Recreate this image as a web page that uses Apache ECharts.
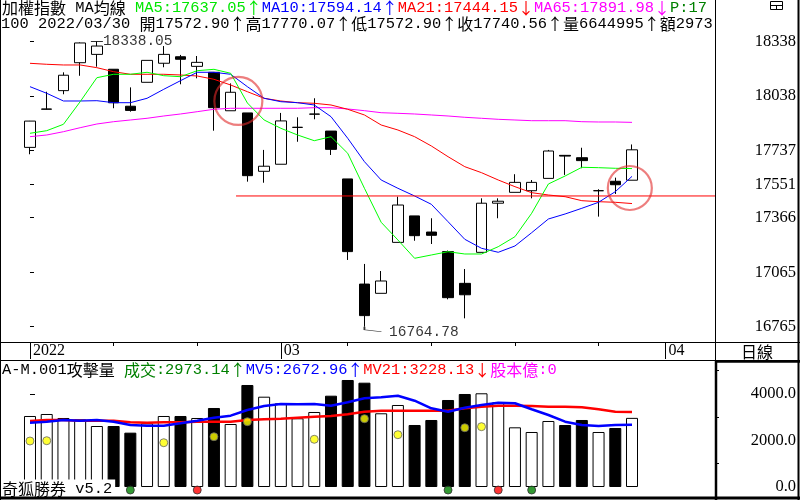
<!DOCTYPE html>
<html><head><meta charset="utf-8">
<script src="https://cdn.jsdelivr.net/npm/echarts@6/dist/echarts.min.js"></script>
<style>html,body{margin:0;padding:0;background:#fff}#c{width:800px;height:500px}</style>
</head><body><div id="c"></div>
<script>
const dates = ['2022/02/07','2022/02/08','2022/02/09','2022/02/10','2022/02/11','2022/02/14','2022/02/15','2022/02/16','2022/02/17','2022/02/18','2022/02/21','2022/02/22','2022/02/23','2022/02/24','2022/02/25','2022/03/01','2022/03/02','2022/03/03','2022/03/04','2022/03/07','2022/03/08','2022/03/09','2022/03/10','2022/03/11','2022/03/14','2022/03/15','2022/03/16','2022/03/17','2022/03/18','2022/03/21','2022/03/22','2022/03/23','2022/03/24','2022/03/25','2022/03/28','2022/03/29','2022/03/30'];
const opens  = [17754,17964,18067,18221,18267,18185,17981,18113,18218,18254,18201,18168,17956,17944,17622,17661,17864,17937,17844,17580,17000,16949,17230,17376,17287,17179,17004,17175,17446,17506,17515,17583,17710,17697,17515,17567,17572.90];
const highs  = [17900,18061,18168,18333,18338.05,18185,18085,18234,18313,18264,18258,18168,18107,17944,17740,17944,17920,18025,17844,17580,17111,17072,17482,17376,17363,17185,17083,17473,17473,17606,17574,17740,17712,17752,17523,17587,17770.07];
const lows   = [17716,17962,18047,18149,18199,17970,17951,18113,18196,18102,18135,17846,17956,17565,17559,17661,17785,17909,17712,17133,16764.78,16949,17230,17239,17221,16916,16811,17175,17363,17506,17473,17583,17602,17639,17372,17497,17572.90];
const closes = [17899,17966,18152,18330,18313,18000,17958,18234,18267,18240,18223,17973,18058,17598,17650,17900,17865,17938,17743,17179,16826,17017,17436,17267,17269,16925,16941,17446,17457,17561,17561,17734,17706,17681,17515,17548,17740.56];
const ma5  = [17831.7,17846.1,17881.4,18006,18138.4,18157.2,18157.2,18168.2,18149.4,18143.9,18177,18184.7,18162.7,17998.9,17905.1,17859.3,17822.3,17790.9,17813,17721.4,17528.3,17340.8,17243.2,17142.2,17160.4,17178.6,17165.9,17165.9,17206.2,17261.3,17390.4,17552.1,17596.2,17644.2,17642,17638.7,17637.05];
const ma10 = [18088.8,18052.4,18009.9,18009.9,18011.5,18000.5,18000.5,18024.8,18074.4,18121.9,18168.2,18168.2,18157.2,18088.8,18024.8,18006,18000.5,17987.8,17923.3,17804.1,17675.1,17574.1,17528.3,17485.9,17440.1,17344.1,17247,17197.4,17175.3,17210,17283.4,17359,17386.6,17418,17451.1,17509.6,17594.14];
const ma21 = [18217.8,18212.3,18208.5,18208.5,18193.6,18171.5,18157.2,18157.2,18157.2,18153.3,18147.8,18129.6,18098.1,18061.2,18024.8,18009.9,18000.5,17997.2,17987.8,17964.1,17932.7,17877.5,17849.9,17813,17761.7,17702.6,17647.5,17614.4,17574.1,17537.2,17504.1,17491.4,17482,17460,17454.4,17451.1,17444.15];
const ma65 = [17813,17822.3,17840.5,17862.6,17883,17895.7,17905.1,17914.5,17927.1,17938.2,17950.9,17964.1,17969.6,17969.6,17969.6,17969.6,17969.6,17972.9,17972.9,17965.8,17956.4,17945.3,17942,17938.2,17932.7,17927.1,17920,17914.5,17908.9,17905.1,17901.2,17901.2,17901.2,17895.7,17894,17894,17891.98];
const volumes = [3054,3140,2968,2911,2623,2623,2337,2738,3054,3054,2968,3398,2710,4387,3884,3600,2955,3226,3927,4602,4486,3170,3527,2667,2882,3742,4000,4030,3643,2567,2366,2839,2667,2882,2366,2538,2973.14];
const mv5  = [2766,2809,2882,2852,2882,2809,2667,2637,2637,2740,2852,2981,3067,3312,3484,3570,3557,3570,3497,3643,3815,3858,3927,3712,3385,3239,3411,3527,3626,3600,3342,3097,2809,2667,2624,2667,2672.96];
const mv21 = [2839,2882,2882,2852,2852,2852,2783,2766,2783,2783,2809,2809,2809,2882,2912,2938,2981,3024,3054,3127,3239,3282,3282,3282,3282,3282,3385,3454,3497,3497,3484,3454,3454,3428,3342,3239,3228.13];
const attackIdx = [0,1,8,11,13,17,20,22,26,27];
const attackVal = [1978,1991,1905,2163,2809,2052,2938,2249,2550,2594];
const greenSignalIdx = [6,25,30];
const redSignalIdx = [10,28];
const signalLevel = -130;
const priceTicks = [18338,18038,17737,17551,17366,17065,16765];
const volTicks = [0,2000,4000];
const volMinorTicks = [1000,3000,5000];
const monthTickIdx = [0,15,38];
const monthLabels = ['2022','03','04'];
const weekTickIdx = [5,10,19,24,29,34];
const refLevel = 17486, refStartIdx = 12.32;
const circleX = [12.46, 35.87], circleY = [18010, 17530];
const tradeVolume = 6644995;

const FONT = "'Liberation Serif','Noto Sans CJK TC',serif";
const MONO = "'Liberation Mono','DejaVu Sans Mono',monospace";
const CJK = "'Noto Sans CJK TC','Noto Sans CJK JP',sans-serif";
const XMIN = -1.794, XMAX = 41.023;
const last = closes.length - 1;
const fx = v => v.toFixed(2);

const isWide = ch => /[\u2190-\u21ff\u3000-\u9fff\uff00-\uffef]/.test(ch);
function richLine(segs) {
  const rich = {}; let out = '';
  segs.forEach(([t, col], k) => {
    rich['a' + k] = {fontFamily: MONO, fontSize: 15.4, fill: col};
    rich['c' + k] = {fontFamily: CJK, fontSize: 16, fill: col};
    let run = '', wide = null;
    for (const ch of t) {
      const w = isWide(ch);
      if (wide !== null && w !== wide) { out += '{' + (wide ? 'c' : 'a') + k + '|' + run + '}'; run = ''; }
      wide = w; run += ch;
    }
    if (run) out += '{' + (wide ? 'c' : 'a') + k + '|' + run + '}';
  });
  return {text: out, rich};
}

const chart = echarts.init(document.getElementById('c'), null, {renderer:'canvas'});
const candleData = opens.map((o,i)=>[i, o, closes[i], lows[i], highs[i]]);
const maLine = (arr, color) => ({type:'line', xAxisIndex:0, yAxisIndex:0, data: arr.map((v,i)=>[i,v]), symbol:'none', lineStyle:{color, width:1}, z:3, silent:true});
const volData = volumes.map((v,i)=>({value:[i,v], itemStyle: closes[i] >= opens[i] ? {color:'#fff', borderColor:'#000', borderWidth:1} : {color:'#000', borderColor:'#000', borderWidth:1}}));
let hiI = 0, loI = 0;
highs.forEach((h,i)=>{ if (h > highs[hiI]) hiI = i; });
lows.forEach((l,i)=>{ if (l < lows[loI]) loI = i; });

const rtxt = (segs, x, y, extra) => { const r = richLine(segs); return {type:'text', x, y, z:120, style: Object.assign({text:r.text, rich:r.rich, verticalAlign:'middle'}, extra || {})}; };
const ln = (x1,y1,x2,y2,w) => ({type:'line', z:130, shape:{x1,y1,x2,y2}, style:{stroke:'#000', lineWidth:w||1}});

const option = {
  backgroundColor:'#fff',
  animation:false,
  grid:[
    {left:0, top:0, width:716, height:342, show:false, outerBoundsMode:'none', containLabel:false},
    {left:0, top:361, width:716, height:136, show:false, outerBoundsMode:'none', containLabel:false}
  ],
  xAxis:[
    {type:'value', gridIndex:0, min:XMIN, max:XMAX, position:'bottom', axisLine:{show:false}, splitLine:{show:false},
     axisTick:{show:true, customValues:weekTickIdx, length:4, inside:false, lineStyle:{color:'#000'}}, axisLabel:{show:false}},
    {type:'value', gridIndex:0, min:XMIN, max:XMAX, position:'bottom', offset:0, axisLine:{show:false}, splitLine:{show:false},
     axisTick:{show:true, customValues:monthTickIdx, length:17, inside:false, lineStyle:{color:'#000'}},
     axisLabel:{show:true, customValues:monthTickIdx, formatter:v=>monthLabels[monthTickIdx.indexOf(Math.round(v))], align:'left', padding:[0,0,0,3], margin:1, color:'#000', fontSize:16, fontFamily:FONT}},
    {type:'value', gridIndex:1, min:XMIN, max:XMAX, show:false}
  ],
  yAxis:[
    {type:'value', gridIndex:0, position:'right', min:16680.45, max:18566.96, axisLine:{show:false}, splitLine:{show:false},
     axisTick:{show:true, customValues:priceTicks, length:4, inside:false, lineStyle:{color:'#000'}},
     axisLabel:{show:true, customValues:priceTicks, formatter:v=>String(Math.round(v)), align:'right', margin:80, color:'#000', fontSize:16.5, fontFamily:FONT}},
    {type:'value', gridIndex:1, position:'right', min:-430, max:5419, axisLine:{show:false}, splitLine:{show:false},
     axisTick:{show:true, customValues:volTicks, length:5, inside:false, lineStyle:{color:'#000'}},
     axisLabel:{show:true, customValues:volTicks, formatter:v=>Number(v).toFixed(1), align:'right', margin:80, color:'#000', fontSize:16.5, fontFamily:FONT}},
    {type:'value', gridIndex:1, position:'right', min:-430, max:5419, axisLine:{show:false}, splitLine:{show:false},
     axisTick:{show:true, customValues:volMinorTicks, length:3, inside:false, lineStyle:{color:'#000'}}, axisLabel:{show:false}}
  ],
  series:[
    {type:'candlestick', xAxisIndex:0, yAxisIndex:0, data:candleData, barWidth:11, z:2,
     itemStyle:{color:'#fff', color0:'#000', borderColor:'#000', borderColor0:'#000', borderWidth:1}},
    maLine(ma65, '#ff00ff'), maLine(ma21, '#ff0000'), maLine(ma10, '#0000ff'), maLine(ma5, '#00ff00'),
    {type:'line', xAxisIndex:0, yAxisIndex:0, data:[[refStartIdx, refLevel],[XMAX, refLevel]], symbol:'none', lineStyle:{color:'#ff0000', width:1}, z:4, silent:true},
    {type:'scatter', xAxisIndex:0, yAxisIndex:0, z:6, silent:true,
     data:[{value:[circleX[0], circleY[0]], symbolSize:48},{value:[circleX[1], circleY[1]], symbolSize:44}],
     symbol:'circle', itemStyle:{color:'rgba(0,0,0,0)', borderColor:'rgba(225,40,40,0.75)', borderWidth:2.2}},
    {type:'scatter', xAxisIndex:0, yAxisIndex:0, z:5, silent:true, data:[[hiI, highs[hiI]]],
     symbol:'rect', symbolSize:[12,1], itemStyle:{color:'#000'},
     label:{show:true, position:'right', distance:0, formatter:()=>fx(highs[hiI]), color:'#000', fontSize:14.5, fontFamily:MONO}},
    {type:'scatter', xAxisIndex:0, yAxisIndex:0, z:5, silent:true, data:[[loI, lows[loI]]],
     symbol:'path://M0,0 L0,3 L17,5', symbolSize:[17,5], symbolOffset:[8.5,2.5], itemStyle:{color:'none', borderColor:'#000', borderWidth:1},
     label:{show:true, position:'right', distance:3, offset:[0,3], formatter:()=>fx(lows[loI]), color:'#000', fontSize:14.5, fontFamily:MONO}},
    {type:'bar', xAxisIndex:2, yAxisIndex:1, data:volData, barWidth:12, z:2},
    {type:'line', xAxisIndex:2, yAxisIndex:1, data:mv21.map((v,i)=>[i,v]), symbol:'none', lineStyle:{color:'#ff0000', width:2.5}, z:3, silent:true},
    {type:'line', xAxisIndex:2, yAxisIndex:1, data:mv5.map((v,i)=>[i,v]), symbol:'none', lineStyle:{color:'#0000ff', width:2.5}, z:3, silent:true},
    {type:'scatter', xAxisIndex:2, yAxisIndex:1, data:attackIdx.map((k,j)=>[k, attackVal[j]]), symbol:'circle', symbolSize:8,
     itemStyle:{color:'#ffff00', borderColor:'#666', borderWidth:1}, z:4, silent:true},
    {type:'scatter', xAxisIndex:2, yAxisIndex:1, data:greenSignalIdx.map(k=>[k, signalLevel]), symbol:'circle', symbolSize:8,
     itemStyle:{color:'#008000', borderColor:'#333', borderWidth:1}, z:4, silent:true},
    {type:'scatter', xAxisIndex:2, yAxisIndex:1, data:redSignalIdx.map(k=>[k, signalLevel]), symbol:'circle', symbolSize:8,
     itemStyle:{color:'#ff0000', borderColor:'#333', borderWidth:1}, z:4, silent:true}
  ],
  graphic:{elements:[
    rtxt([['加權指數 MA均線 ', '#000'],
          ['MA5:' + fx(ma5[last]) + '↑', '#00e600'],
          ['MA10:' + fx(ma10[last]) + '↑', '#0000ff'],
          ['MA21:' + fx(ma21[last]) + '↓', '#ff0000'],
          ['MA65:' + fx(ma65[last]) + '↓', '#ff00ff'],
          ['P:' + fx(closes[last]) + '↑', '#008000']], 2, 8, {width:713, overflow:'truncate', ellipsis:''}),
    rtxt([['100 ' + dates[last] + ' 開' + fx(opens[last]) + '↑高' + fx(highs[last]) + '↑低' + fx(lows[last]) + '↑收' + fx(closes[last]) + '↑量' + tradeVolume + '↑額' + fx(volumes[last]), '#000']], 1, 24, {width:714, overflow:'truncate', ellipsis:''}),
    rtxt([['A-M.001攻擊量 ', '#000'],
          ['成交:' + fx(volumes[last]) + '↑', '#008000'],
          ['MV5:' + fx(mv5[last]) + '↑', '#0000ff'],
          ['MV21:' + fx(mv21[last]) + '↓', '#ff0000'],
          ['股本億:0', '#ff00ff']], 2, 370),
    rtxt([['奇狐勝券 v5.2', '#000']], 0, 489, {backgroundColor:'#fff', padding:[1,3,2,2]}),
    {type:'text', x:757, y:352, z:120, style:{text:'日線', fill:'#000', font:'16px ' + CJK, align:'center', verticalAlign:'middle'}},
    {type:'rect', z:130, shape:{x:770.5, y:1.5, width:12, height:8}, style:{fill:'#fff', stroke:'#000', lineWidth:1}},
    ln(770.5, 5.5, 782.5, 5.5), ln(776.5, 5.5, 776.5, 9.5),
    ln(0.5, 0, 0.5, 500), ln(715.5, 0, 715.5, 500), ln(798.5, 0, 798.5, 500, 2),
    ln(0, 342.5, 800, 342.5), ln(0, 360.5, 800, 360.5),
    ln(0, 498, 800, 498, 3),
    ln(716, 360, 716, 500, 2.5), ln(715, 361.5, 800, 361.5, 2.5)
  ]}
};
chart.setOption(option);
</script></body></html>
